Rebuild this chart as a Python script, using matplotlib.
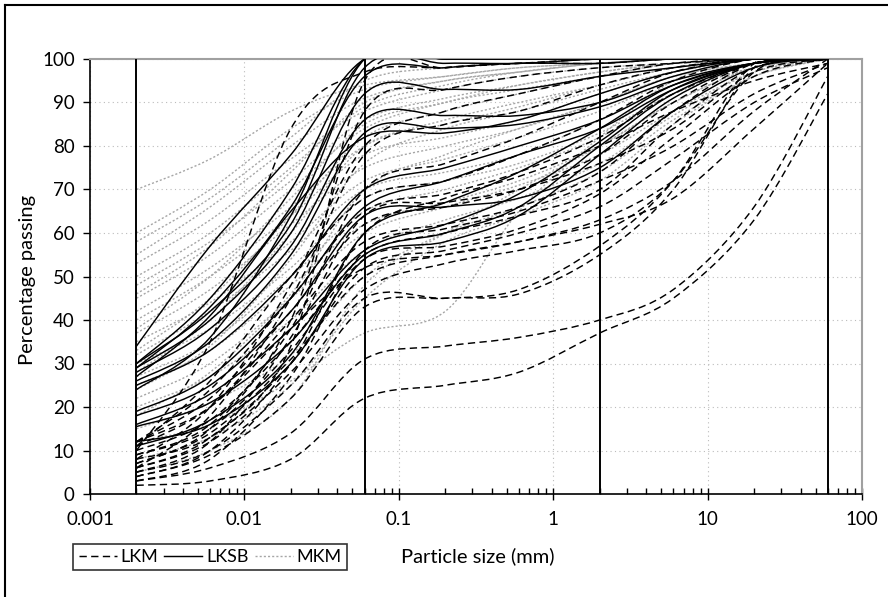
import numpy as np
import matplotlib
matplotlib.use('Agg')
import matplotlib.pyplot as plt
from matplotlib.lines import Line2D
from matplotlib.path import Path
from matplotlib.patches import PathPatch

plt.rcParams['font.family'] = ['Lato', 'DejaVu Sans']

# sieve sizes (mm)
sizes = [0.002, 0.006, 0.02, 0.06, 0.2, 0.6, 2, 6, 20, 60]

# LKM curves (percentage passing at each size)
lkm = [
    [2, 3, 8, 22, 25, 28, 37, 45, 63, 92],
    [3, 6, 14, 31, 34, 36, 40, 47, 66, 96],
    [4, 9, 22, 43, 45, 46, 55, 70, 98, 100],
    [5, 10, 25, 45, 45, 47, 57, 72, 99, 100],
    [6, 12, 28, 47, 53, 56, 60, 72, 97, 100],
    [7, 14, 31, 50, 55, 58, 62, 68, 84, 99],
    [8, 13, 30, 52, 56, 60, 66, 77, 90, 98],
    [9, 15, 33, 54, 57, 61, 69, 82, 96, 100],
    [10, 17, 35, 55, 60, 64, 70, 85, 98, 100],
    [11, 20, 40, 58, 62, 66, 74, 88, 99, 100],
    [12, 22, 42, 62, 66, 70, 78, 90, 99, 100],
    [12, 24, 45, 65, 69, 74, 82, 92, 99, 100],
    [11, 26, 50, 68, 72, 78, 86, 95, 100, 100],
    [10, 35, 84, 97, 98, 99, 99, 100, 100, 100],
    [6, 18, 45, 78, 85, 88, 94, 98, 100, 100],
    [8, 20, 48, 80, 88, 92, 96, 99, 100, 100],
    [4, 10, 30, 60, 68, 73, 80, 88, 95, 99],
    [3, 8, 27, 56, 61, 65, 72, 80, 92, 99],
    [9, 16, 38, 70, 76, 82, 90, 97, 100, 100],
    [5, 12, 36, 64, 67, 70, 76, 84, 97, 100],
    [7, 15, 40, 88, 93, 96, 98, 99, 100, 100],
    [12, 20, 38, 52, 55, 58, 63, 72, 88, 100],
    [6, 13, 34, 95, 98, 99, 100, 100, 100, 100],
]

# LKSB curves
lksb = [
    [34, 57, 78, 100, 100, 100, 100, 100, 100, 100],
    [30, 42, 62, 98, 99, 99, 100, 100, 100, 100],
    [29, 40, 60, 92, 93, 93, 96, 98, 100, 100],
    [28, 38, 57, 86, 87, 87, 90, 96, 100, 100],
    [26, 35, 55, 83, 84, 85, 89, 95, 99, 100],
    [25, 33, 50, 70, 75, 80, 86, 94, 99, 100],
    [19, 27, 45, 66, 72, 78, 84, 93, 99, 100],
    [18, 25, 42, 64, 66, 68, 75, 88, 98, 100],
    [16, 23, 38, 56, 62, 69, 81, 93, 99, 100],
    [15.5, 21, 35, 55, 60, 66, 80, 92, 99, 100],
    [12, 16, 30, 54, 58, 64, 78, 91, 99, 100],
    [11, 17, 32, 60, 67, 74, 84, 94, 99, 100],
    [30, 45, 70, 100, 100, 100, 100, 100, 100, 100],
    [27, 41, 65, 82, 83, 86, 92, 97, 100, 100],
    [24, 36, 64, 100, 100, 100, 100, 100, 100, 100],
    [29, 43, 66, 96, 98, 99, 99, 100, 100, 100],
]

# MKM curves
mkm = [
    [70, 77, 88, 94, 96, 98, 99, 100, 100, 100],
    [60, 70, 84, 93, 96, 98, 99, 100, 100, 100],
    [55, 66, 80, 91, 95, 97, 99, 100, 100, 100],
    [53, 63, 77, 88, 93, 96, 98, 99, 100, 100],
    [50, 60, 75, 89, 94, 97, 99, 100, 100, 100],
    [48, 58, 72, 86, 91, 94, 97, 99, 100, 100],
    [45, 55, 70, 84, 90, 93, 96, 99, 100, 100],
    [42, 52, 66, 80, 86, 90, 94, 98, 100, 100],
    [40, 50, 64, 78, 82, 86, 92, 97, 100, 100],
    [37, 47, 62, 75, 80, 84, 90, 96, 99, 100],
    [35, 44, 58, 72, 77, 82, 88, 95, 99, 100],
    [32, 42, 56, 70, 74, 78, 86, 94, 99, 100],
    [30, 38, 52, 68, 72, 76, 83, 92, 98, 100],
    [27, 35, 50, 65, 70, 75, 82, 92, 98, 100],
    [25, 33, 48, 62, 67, 72, 80, 90, 98, 100],
    [22, 30, 45, 60, 66, 71, 78, 88, 97, 100],
    [20, 27, 40, 56, 63, 68, 76, 87, 97, 100],
    [15, 21, 32, 50, 60, 66, 74, 86, 96, 100],
    [12, 16, 26, 37, 42, 65, 82, 95, 100, 100],
    [8, 13, 25, 45, 58, 64, 72, 85, 96, 100],
    [5, 10, 22, 48, 60, 70, 80, 90, 98, 100],
    [58, 68, 82, 95, 98, 99, 100, 100, 100, 100],
    [46, 57, 74, 90, 95, 97, 99, 100, 100, 100],
    [38, 50, 68, 85, 90, 94, 97, 99, 100, 100],
    [33, 45, 64, 82, 88, 92, 96, 99, 100, 100],
    [28, 40, 60, 80, 85, 89, 94, 98, 100, 100],
    [24, 34, 54, 76, 84, 88, 93, 97, 100, 100],
    [18, 28, 46, 70, 78, 84, 90, 96, 99, 100],
]

# boundaries clay/silt/sand/gravel
limits = [0.002, 0.06, 2, 60]


def smooth_line(ax, xs, ys, **kw):
    # spreadsheet style smoothed line: cubic bezier through the points (log x)
    P = np.column_stack([np.log10(xs), ys]).astype(float)
    n = len(P)
    verts = [P[0]]
    codes = [Path.MOVETO]
    for i in range(n - 1):
        a = P[max(i - 1, 0)]
        d = P[min(i + 2, n - 1)]
        c1 = P[i] + (P[i + 1] - a) / 6
        c2 = P[i + 1] - (d - P[i]) / 6
        verts += [c1, c2, P[i + 1]]
        codes += [Path.CURVE4] * 3
    verts = np.array(verts)
    verts[:, 0] = 10 ** verts[:, 0]
    ax.add_patch(PathPatch(Path(verts, codes), fill=False, **kw))


fig = plt.figure(figsize=(8.88, 5.97), dpi=100)
ax = fig.add_axes([90/888, 103/597, 772/888, 435/597])

for yy in mkm:
    smooth_line(ax, sizes, yy, edgecolor='#a6a6a6', lw=1.0, ls=(0, (1.5, 1.5)), zorder=2)
for yy in lkm:
    smooth_line(ax, sizes, yy, edgecolor='black', lw=1.05, ls=(0, (5, 3)), zorder=3)
for yy in lksb:
    smooth_line(ax, sizes, yy, edgecolor='black', lw=1.05, ls='-', zorder=4)

for xl in limits:
    ax.plot([xl, xl], [0, 100], color='black', lw=1.4, zorder=5)

ax.set_xscale('log')
ax.set_xlim(0.001, 100)
ax.set_ylim(0, 100)
ax.set_yticks(np.arange(0, 101, 10))
ax.set_xticks([0.001, 0.01, 0.1, 1, 10, 100])
ax.set_xticklabels(['0.001', '0.01', '0.1', '1', '10', '100'])

ax.grid(True, which='major', color='#bbbbbb', lw=0.8, ls=(0, (1, 3)), zorder=1)
ax.tick_params(axis='y', which='major', direction='out', length=5, width=1, pad=6, labelsize=13.5)
ax.tick_params(axis='x', which='major', direction='inout', length=9, width=1, pad=8, labelsize=13.5)
ax.tick_params(axis='x', which='minor', direction='in', length=4, width=1)

for s in ['top', 'right']:
    ax.spines[s].set_color('#a0a0a0')
    ax.spines[s].set_linewidth(1.5)
for s in ['left', 'bottom']:
    ax.spines[s].set_color('black')
    ax.spines[s].set_linewidth(1.2)

fig.text(478/888, 1 - 556/597, 'Particle size (mm)', ha='center', va='center', fontsize=14.5)
fig.text(28/888, 1 - 280/597, 'Percentage passing', ha='center', va='center', rotation=90, fontsize=14.5)

handles = [Line2D([], [], color='black', lw=1.05, ls=(0, (5, 3))),
           Line2D([], [], color='black', lw=1.05, ls='-'),
           Line2D([], [], color='#a6a6a6', lw=1.0, ls=(0, (1.5, 1.5)))]
leg = fig.legend(handles, ['LKM', 'LKSB', 'MKM'], ncol=3, loc='center',
                 bbox_to_anchor=(210/888, 1 - 557/597), fontsize=13, frameon=True,
                 fancybox=False, edgecolor='black', handlelength=2.1, handletextpad=0.2,
                 columnspacing=0.35, borderpad=0.3, borderaxespad=0)
leg.get_frame().set_linewidth(1.2)

# outer chart border
fig.add_artist(Line2D([5/888, 5/888], [0, 1 - 5/597], color='black', lw=1.5))
fig.add_artist(Line2D([5/888, 1], [1 - 5/597, 1 - 5/597], color='black', lw=1.5))

fig.savefig('out.png', dpi=100)
